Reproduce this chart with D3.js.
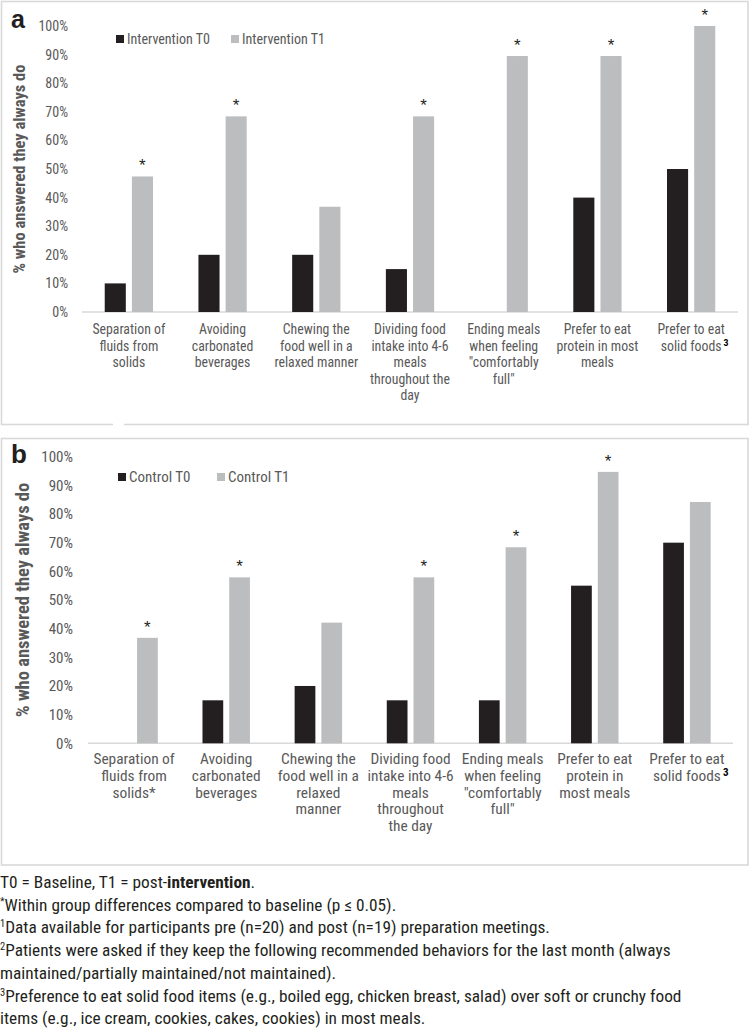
<!DOCTYPE html>
<html><head><meta charset="utf-8">
<script src="https://cdn.jsdelivr.net/npm/d3@7"></script>
<style>
body{margin:0;background:#fff;}
svg{display:block;}
</style></head><body>
<svg id="chart" width="751" height="1028"></svg>
<script>
// ---------- DATA ----------
const seriesNames = ["T0", "T1"];
const tickValues = [0, 10, 20, 30, 40, 50, 60, 70, 80, 90, 100];
const yTitle = "% who answered they always do";

const labelsA = [
  ["Separation of", "fluids from", "solids"],
  ["Avoiding", "carbonated", "beverages"],
  ["Chewing the", "food well in a", "relaxed manner"],
  ["Dividing food", "intake into 4-6", "meals", "throughout the", "day"],
  ["Ending meals", "when feeling", "\"comfortably", "full\""],
  ["Prefer to eat", "protein in most", "meals"],
  ["Prefer to eat", "solid foods^3"]
];
const legendA = ["Intervention T0", "Intervention T1"];
const interventionT0 = [10, 20, 20, 15, 0, 40, 50];
const interventionT1 = [47.4, 68.4, 36.8, 68.4, 89.5, 89.5, 100];
const interventionSig = [true, true, false, true, true, true, true];

const labelsB = [
  ["Separation of", "fluids from", "solids*"],
  ["Avoiding", "carbonated", "beverages"],
  ["Chewing the", "food well in a", "relaxed", "manner"],
  ["Dividing food", "intake into 4-6", "meals", "throughout", "the day"],
  ["Ending meals", "when feeling", "\"comfortably", "full\""],
  ["Prefer to eat", "protein in", "most meals"],
  ["Prefer to eat", "solid foods^3"]
];
const legendB = ["Control T0", "Control T1"];
const controlT0 = [0, 15, 20, 15, 15, 55, 70];
const controlT1 = [36.8, 57.9, 42.1, 57.9, 68.4, 94.7, 84.2];
const controlSig = [true, true, false, true, true, true, false];

const footnotes = [
  [["T0 = Baseline, T1 = post-"], ["intervention", "b"], ["."]],
  [["*", "sup"], ["Within group differences compared to baseline (p \u2264 0.05)."]],
  [["1", "sup"], ["Data available for participants pre (n=20) and post (n=19) preparation meetings."]],
  [["2", "sup"], ["Patients were asked if they keep the following recommended behaviors for the last month (always"]],
  [["maintained/partially maintained/not maintained)."]],
  [["3", "sup"], ["Preference to eat solid food items (e.g., boiled egg, chicken breast, salad) over soft or crunchy food"]],
  [["items (e.g., ice cream, cookies, cakes, cookies) in most meals."]]
];

// ---------- STYLE ----------
const FONT = "'Liberation Sans Narrow', 'Roboto Condensed', 'Liberation Sans', sans-serif";
const COL_T0 = "#231f20", COL_T1 = "#bcbdbf", COL_TXT = "#595959", COL_LINE = "#d9d9d9";
const svg = d3.select("#chart");

function drawPanel(cfg, labels, v0, v1, sig, legend) {
  const g = svg.append("g");
  g.append("rect").attr("x", cfg.box[0]).attr("y", cfg.box[1]).attr("width", cfg.box[2]).attr("height", cfg.box[3])
    .attr("fill", "none").attr("stroke", COL_LINE).attr("stroke-width", 1.6);

  const x = d3.scaleBand().domain(d3.range(labels.length)).range([cfg.x0, cfg.x1]);
  const barW = x.bandwidth() * 0.225, gap = x.bandwidth() * 0.065;
  const xs = d3.scaleBand().domain(seriesNames).range([-(barW + gap / 2), barW + gap / 2]).paddingInner(gap / (barW + gap));
  const y = d3.scaleLinear().domain([0, 100]).range([cfg.yb, cfg.yt]);

  const ya = g.append("g").attr("transform", `translate(${cfg.x0 - cfg.tickPad},0)`)
    .call(d3.axisLeft(y).tickValues(tickValues).tickSize(0).tickPadding(0).tickFormat(d => d + "%"));
  ya.select(".domain").remove();
  ya.selectAll("text").attr("font-family", FONT).attr("font-size", cfg.tickSize).attr("fill", COL_TXT);

  g.append("line").attr("x1", cfg.x0).attr("x2", cfg.x1).attr("y1", y(0)).attr("y2", y(0))
    .attr("stroke", COL_LINE).attr("stroke-width", 1.5);

  const rows = labels.map((l, i) => ({ i, v: [v0[i], v1[i]], sig: sig[i] }));
  const grp = g.selectAll(".grp").data(rows).join("g").attr("transform", d => `translate(${x(d.i) + x.bandwidth() / 2},0)`);
  grp.selectAll("rect").data(d => seriesNames.map((s, k) => ({ s, v: d.v[k] }))).join("rect")
    .attr("x", d => xs(d.s)).attr("width", xs.bandwidth())
    .attr("y", d => y(d.v)).attr("height", d => y(0) - y(d.v))
    .attr("fill", d => d.s === "T0" ? COL_T0 : COL_T1);
  grp.filter(d => d.sig).append("text")
    .attr("x", xs("T1") + xs.bandwidth() / 2).attr("y", d => y(d.v[1]) - 5)
    .attr("text-anchor", "middle").attr("font-family", "'Liberation Sans', sans-serif").attr("font-size", 17)
    .attr("fill", COL_T0).text("*");

  labels.forEach((lines, i) => {
    lines.forEach((ln, j) => {
      const parts = ln.split("^");
      const cx = x(i) + x.bandwidth() / 2, ly = y(0) + cfg.labelOff + j * cfg.lineH;
      const t = g.append("text").attr("x", cx).attr("y", ly)
        .attr("text-anchor", "middle").attr("font-family", FONT).attr("font-size", cfg.labelSize).attr("fill", COL_TXT)
        .text(parts[0]);
      if (parts[1]) {
        const w = t.node().getComputedTextLength();
        g.append("text").attr("x", cx + w / 2 + 2).attr("y", ly - 5)
          .attr("font-family", FONT).attr("font-size", cfg.labelSize * 0.72).attr("font-weight", "bold")
          .attr("fill", "#000").text(parts[1]);
      }
    });
  });

  g.append("text").attr("transform", `translate(${cfg.titleX},${(cfg.yt + cfg.yb) / 2}) rotate(-90)`)
    .attr("text-anchor", "middle").attr("dominant-baseline", "central")
    .attr("font-family", FONT).attr("font-weight", "bold").attr("font-size", cfg.titleSize).attr("fill", COL_TXT)
    .text(yTitle);

  g.append("text").attr("x", cfg.letter[0]).attr("y", cfg.letter[1]).attr("font-family", "'Liberation Sans', sans-serif")
    .attr("font-weight", "bold").attr("font-size", cfg.letterSize).attr("fill", "#231f20").text(cfg.letterText);

  legend.forEach((name, k) => {
    const lx = cfg.legendX[k];
    g.append("rect").attr("x", lx).attr("y", cfg.legendY - 4).attr("width", 8).attr("height", 8)
      .attr("fill", k === 0 ? COL_T0 : COL_T1);
    g.append("text").attr("x", lx + 11).attr("y", cfg.legendY).attr("dominant-baseline", "central")
      .attr("font-family", FONT).attr("font-size", cfg.legendSize).attr("fill", COL_TXT).text(name);
  });
}

drawPanel({
  box: [1.5, 1.5, 746.5, 423], x0: 82, x1: 738, yb: 312, yt: 26, tickPad: 14, tickSize: 14,
  labelOff: 22, lineH: 16.6, labelSize: 13.8, titleX: 19, titleSize: 16.5,
  letter: [11, 28], letterSize: 25, letterText: "a", legendX: [116, 231], legendY: 39, legendSize: 14
}, labelsA, interventionT0, interventionT1, interventionSig, legendA);

drawPanel({
  box: [1.5, 438.5, 746.5, 426.5], x0: 88, x1: 733, yb: 743.3, yt: 456.7, tickPad: 15, tickSize: 15,
  labelOff: 21, lineH: 16.6, labelSize: 15.4, titleX: 23, titleSize: 18.5,
  letter: [11, 463], letterSize: 26, letterText: "b", legendX: [118, 217], legendY: 477, legendSize: 15
}, labelsB, controlT0, controlT1, controlSig, legendB);

svg.append("rect").attr("x", 113).attr("y", 422).attr("width", 11).attr("height", 5).attr("fill", "#fff");

// footnotes
footnotes.forEach((segs, i) => {
  const by = 888 + i * 22.7;
  const t = svg.append("text").attr("x", 0).attr("y", by)
    .attr("font-family", FONT).attr("font-size", 17.3).attr("fill", "#231f20");
  let shift = 0;
  segs.forEach(([s, kind]) => {
    const ts = t.append("tspan");
    if (kind === "sup") {
      ts.attr("dy", -6 - shift).attr("font-size", 10.5);
      shift = -6;
    } else {
      ts.attr("dy", -shift);
      shift = 0;
      if (kind === "b") ts.attr("font-weight", "bold");
    }
    ts.text(s);
  });
});
</script>
</body></html>
